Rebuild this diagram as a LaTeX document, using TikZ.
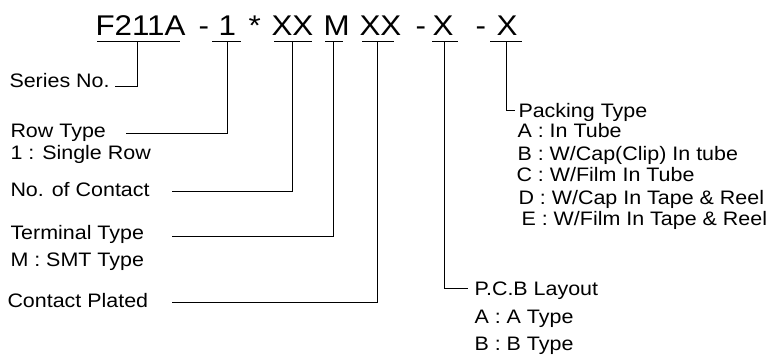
\documentclass[tikz,border=0pt]{standalone}
\usepackage{fontspec}
\setmainfont{Liberation Sans}[FakeStretch=1.1]

\tikzset{
  code/.style={anchor=base west, inner sep=0pt, font=\fontsize{28.5}{30}\selectfont},
  lbl/.style={anchor=base west, inner sep=0pt, font=\fontsize{19.5}{21}\selectfont},
}

\begin{document}
\begin{tikzpicture}[x=1pt, y=-1pt, line width=1pt]
            \useasboundingbox (0,0) rectangle (775,354);

            %% part number
            \node [code] (series) at (95,35) {F211A};
            \node [code] (dashA) at (198,35) {-};
            \node [code] (rowno) at (218,35) {1};
            \node [code] (star) at (248,35) {*};
            \node [code] (contacts) at (271,35) {XX};
            \node [code] (terminal) at (323,35) {M};
            \node [code] (plating) at (359,35) {XX};
            \node [code] (dashB) at (415,35) {-};
            \node [code] (layout) at (432,35) {X};
            \node [code] (dashC) at (475,35) {-};
            \node [code] (packing) at (496,35) {X};

            \foreach \a/\b in {97/180, 212/241, 274/312, 325/343, 362/394, 432/458, 490/522}
                \draw (\a,41) -- (\b,41);

            %% labels left
            \node [lbl] (serieslbl) at (9,87) {Series No.};
            \node [lbl] (rowlbl) at (10,137) {Row Type};
            \node [lbl] (rowA) at (10,159) {1 : Single Row};
            \node [lbl] (contactlbl) at (10,196) {No. of Contact};
            \node [lbl] (termlbl) at (10,239) {Terminal Type};
            \node [lbl] (termM) at (10,266) {M : SMT Type};
            \node [lbl] (platlbl) at (7,307) {Contact Plated};

            %% labels right
            \node [lbl] (packlbl) at (518,117) {Packing Type};
            \node [lbl] (packA) at (517,137) {A : In Tube};
            \node [lbl] (packB) at (517,160) {B : W/Cap(Clip) In tube};
            \node [lbl] (packC) at (516,181) {C : W/Film In Tube};
            \node [lbl] (packD) at (518,204) {D : W/Cap In Tape \& Reel};
            \node [lbl] (packE) at (521,225) {E : W/Film In Tape \& Reel};
            \node [lbl] (layoutlbl) at (474,295) {P.C.B Layout};
            \node [lbl] (layoutA) at (474,323) {A : A Type};
            \node [lbl] (layoutB) at (474,350) {B : B Type};

            %% leader lines
            \coordinate (seriestap) at (137,41);
            \coordinate (rowtap) at (227,41);
            \coordinate (contacttap) at (292,41);
            \coordinate (termtap) at (333,41);
            \coordinate (plattap) at (377,41);
            \coordinate (layouttap) at (444,41);
            \coordinate (packtap) at (506,41);

            \coordinate (seriesend) at (115,86);
            \coordinate (rowend) at (126,133);
            \coordinate (contactend) at (172,191);
            \coordinate (termend) at (172,236);
            \coordinate (platend) at (172,302);
            \coordinate (layoutend) at (468,288);
            \coordinate (packend) at (515,110);

            \draw (seriestap) |- (seriesend);
            \draw (rowtap) |- (rowend);
            \draw (contacttap) |- (contactend);
            \draw (termtap) |- (termend);
            \draw (plattap) |- (platend);
            \draw (layouttap) |- (layoutend);
            \draw (packtap) |- (packend);
        \end{tikzpicture}
\end{document}
